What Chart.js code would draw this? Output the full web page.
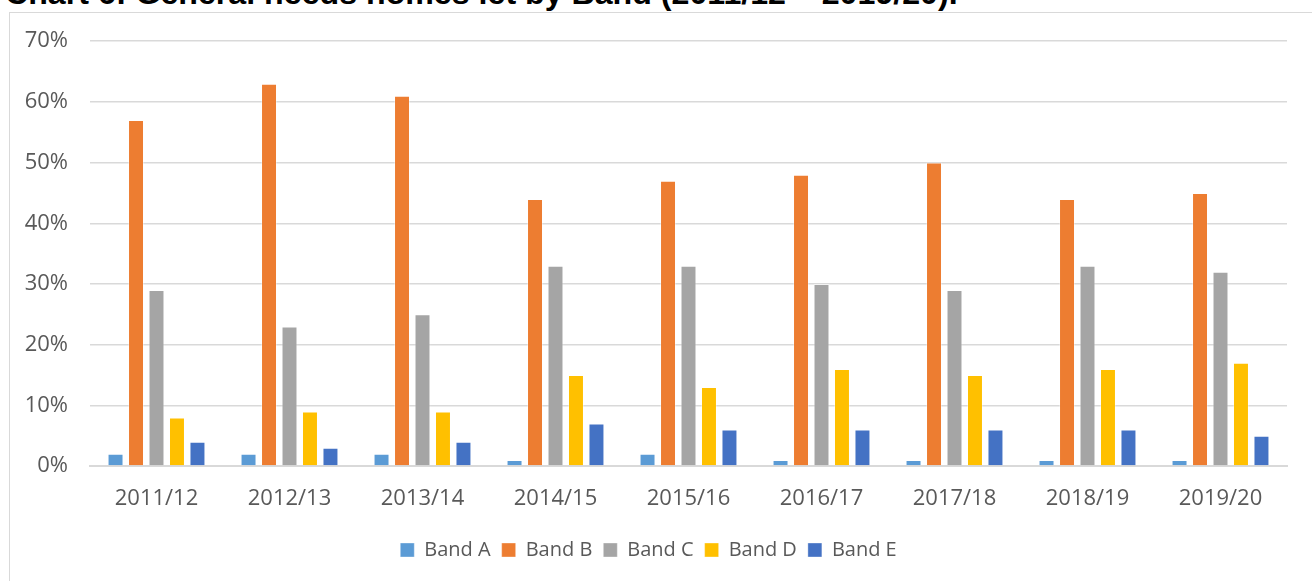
<!DOCTYPE html>
<html>
<head>
<meta charset="utf-8">
<script src="https://cdn.jsdelivr.net/npm/chart.js@4.4.1/dist/chart.umd.min.js"></script>
<style>
  body { margin: 0; background: #fff; overflow: hidden; }
  #title {
    position: absolute;
    left: 5px;
    top: 0;
    font-family: "Liberation Sans", Arial, sans-serif;
    font-weight: bold;
    color: #000;
    white-space: nowrap;
    line-height: 1;
  }
  #frame {
    position: absolute;
    left: 9px;
    top: 12px;
    width: 1340px;
    height: 620px;
    border: 1px solid #d9d9d9;
    box-sizing: border-box;
    background: #fff;
  }
  #wrap {
    position: absolute;
    left: 0;
    top: -7px;
    width: 1278px;
    height: 587px;
  }
</style>
</head>
<body>
<div id="title">Chart 6: General needs homes let by Band (2011/12 – 2019/20).</div>
<div id="frame">
  <div id="wrap"><canvas id="chartCanvas"></canvas></div>
</div>
<script>
const categories = ['2011/12', '2012/13', '2013/14', '2014/15', '2015/16', '2016/17', '2017/18', '2018/19', '2019/20'];
const bandA = [2, 2, 2, 1, 2, 1, 1, 1, 1];
const bandB = [57, 63, 61, 44, 47, 48, 50, 44, 45];
const bandC = [29, 23, 25, 33, 33, 30, 29, 33, 32];
const bandD = [8, 9, 9, 15, 13, 16, 15, 16, 17];
const bandE = [4, 3, 4, 7, 6, 6, 6, 6, 5];
const seriesNames = ['Band A', 'Band B', 'Band C', 'Band D', 'Band E'];
const colours = ['#5B9BD5', '#ED7D31', '#A5A5A5', '#FFC000', '#4472C4'];

// title: cropped at the top, size it so it spans like the reference
const title = document.getElementById('title');
const probe = document.createElement('canvas').getContext('2d');
probe.font = 'bold 100px "Liberation Sans", Arial';
const w100 = probe.measureText(title.textContent).width;
const titleSize = 953 / w100 * 100;
title.style.fontSize = titleSize + 'px';
// baseline at y = 6
title.style.top = (6 - titleSize * 0.905) + 'px';

const tickFont = { family: '"Open Sans", sans-serif', size: 22 };
const legendFont = { family: '"Open Sans", sans-serif', size: 20 };
const textColour = '#595959';

const ctx = document.getElementById('chartCanvas').getContext('2d');
new Chart(ctx, {
  type: 'bar',
  data: {
    labels: categories,
    datasets: [bandA, bandB, bandC, bandD, bandE].map((values, i) => ({
      label: seriesNames[i],
      data: values,
      backgroundColor: colours[i],
      borderColor: 'rgba(255,255,255,0.35)',
      borderWidth: 1,
      categoryPercentage: 0.77,
      barPercentage: 0.78,
    }))
  },
  options: {
    responsive: true,
    maintainAspectRatio: false,
    animation: false,
    layout: { autoPadding: false, padding: { top: 28, right: 1, bottom: 23, left: 0 } },
    scales: {
      x: {
        grid: { display: false, drawTicks: false },
        border: { display: true, color: '#d9d9d9', width: 2 },
        ticks: { font: tickFont, color: textColour, padding: 20 },
        afterFit: (scale) => { scale.height = 63; }
      },
      y: {
        min: 0,
        max: 70,
        grid: { color: '#d9d9d9', lineWidth: 1.5, drawTicks: false },
        border: { display: false },
        ticks: {
          stepSize: 10,
          font: tickFont,
          color: textColour,
          padding: 22,
          callback: (v) => v + '%'
        },
        afterFit: (scale) => { scale.width = 80; }
      }
    },
    plugins: {
      legend: {
        position: 'bottom',
        labels: {
          font: legendFont,
          color: textColour,
          boxWidth: 14,
          boxHeight: 14,
          padding: 11,
        }
      },
      tooltip: { enabled: false }
    }
  }
});
</script>
</body>
</html>
